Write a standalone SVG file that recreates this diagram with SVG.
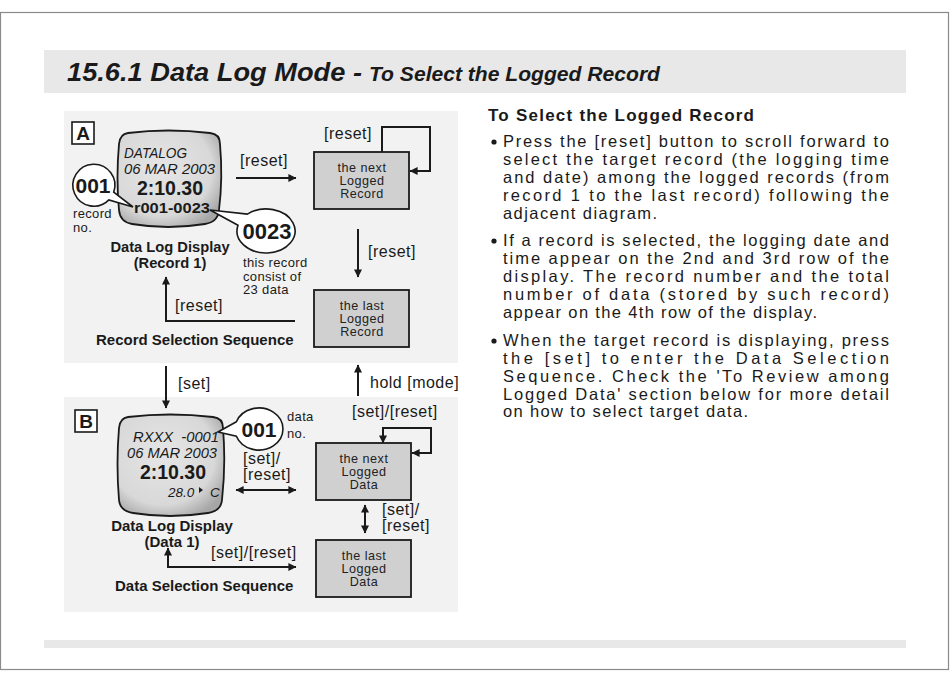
<svg xmlns="http://www.w3.org/2000/svg" width="950" height="682" viewBox="0 0 950 682">
<defs>
<style>
text{font-family:"Liberation Sans",Arial,sans-serif;fill:#1a1a1a}
.lbl{font-size:16px;letter-spacing:0.5px}
.sm{font-size:13px;letter-spacing:0.35px}
.bx{font-size:12.6px;letter-spacing:0.5px;text-anchor:middle;fill:#222}
.bold{font-weight:bold}
.it{font-style:italic}
.body{font-size:16.5px}
.con{fill:none;stroke:#1a1a1a;stroke-width:2}
.box{fill:#d0d0d0;stroke:#1a1a1a;stroke-width:1.8}
.call{fill:#fff;stroke:#1a1a1a;stroke-width:1.6}
.lcd{fill:url(#lcdg);stroke:#1a1a1a;stroke-width:1.8}
.panel{fill:#f2f2f2}
</style>
<radialGradient id="lcdg" cx="0.42" cy="0.4" r="0.68">
<stop offset="0" stop-color="#e6e6e6"/>
<stop offset="0.72" stop-color="#d8d8d8"/>
<stop offset="1" stop-color="#a6a6a6"/>
</radialGradient>
<marker id="ah" viewBox="0 0 10 10" refX="9.5" refY="5" markerWidth="9" markerHeight="8" markerUnits="userSpaceOnUse" orient="auto-start-reverse">
<path d="M0,0 L10,5 L0,10 z" fill="#1a1a1a"/>
</marker>
</defs>

<rect x="0" y="0" width="950" height="682" fill="#fff"/>
<rect x="0.5" y="12.5" width="948" height="657" fill="none" stroke="#8a8a8a" stroke-width="1.2"/>

<g id="header">
<rect x="44" y="50" width="862" height="43" fill="#e8e8e8"/>
<text x="67" y="81" class="bold it" font-size="26" textLength="295" lengthAdjust="spacingAndGlyphs">15.6.1 Data Log Mode -</text>
<text x="369" y="81" class="bold it" font-size="20" textLength="291" lengthAdjust="spacingAndGlyphs">To Select the Logged Record</text>
</g>
<rect id="footer" x="44" y="640" width="862" height="8" fill="#e8e8e8"/>

<g id="panel-a">
<rect x="64" y="111" width="394" height="252" class="panel"/>
<rect x="72" y="122" width="22" height="22" fill="#fff" stroke="#1a1a1a" stroke-width="1.6"/>
<text x="83" y="140" class="bold" font-size="19" text-anchor="middle">A</text>
</g>
<g id="panel-b">
<rect x="64" y="397" width="394" height="215" class="panel"/>
<rect x="75" y="410" width="22" height="22" fill="#fff" stroke="#1a1a1a" stroke-width="1.6"/>
<text x="86" y="428" class="bold" font-size="19" text-anchor="middle">B</text>
</g>

<g id="lcd-record">
<path class="lcd" d="M128,133 Q168,128 210,133 Q220,134 220,144 Q223,178 219,210 Q218,222 205,224 Q168,230 132,224 Q120,222 119,210 Q116,178 119,144 Q120,134 128,133 Z"/>
<text x="124" y="158" class="it" font-size="15.5" textLength="63" lengthAdjust="spacingAndGlyphs">DATALOG</text>
<text x="124" y="174" class="it" font-size="15.5" textLength="91" lengthAdjust="spacingAndGlyphs">06 MAR 2003</text>
<text x="170" y="195" class="bold" font-size="19.5" text-anchor="middle">2:10.30</text>
<text x="134" y="213" class="bold" font-size="14.5" textLength="76" lengthAdjust="spacingAndGlyphs">r001-0023</text>
</g>

<g id="callout-record-no">
<path class="call" d="M113.7,192.2 L133,207 L108.9,199.9 A21 21 0 1 1 113.7,192.2 Z"/>
<text x="93" y="193" class="bold" font-size="21" text-anchor="middle">001</text>
<text x="73" y="218" class="sm">record</text>
<text x="73" y="232" class="sm">no.</text>
</g>

<g id="callout-data-count">
<path class="call" d="M238,225.3 L210,210 L247.4,214.1 A29 22 0 1 1 238,225.3 Z"/>
<text x="267" y="238.5" class="bold" font-size="22" text-anchor="middle">0023</text>
<text x="243" y="267" class="sm">this record</text>
<text x="243" y="280.5" class="sm">consist of</text>
<text x="243" y="294" class="sm">23 data</text>
</g>

<g id="label-record-display">
<text x="170" y="252" class="bold" font-size="14.7" text-anchor="middle">Data Log Display</text>
<text x="170" y="268" class="bold" font-size="14.7" text-anchor="middle">(Record 1)</text>
<text x="96" y="345" class="bold" font-size="15">Record Selection Sequence</text>
</g>

<g id="box-next-record">
<rect x="314" y="152" width="95" height="57" class="box"/>
<text x="362" y="172" class="bx">the next</text>
<text x="362" y="185" class="bx">Logged</text>
<text x="362" y="198" class="bx">Record</text>
</g>
<g id="box-last-record">
<rect x="314" y="290" width="95" height="57" class="box"/>
<text x="362" y="310" class="bx">the last</text>
<text x="362" y="323" class="bx">Logged</text>
<text x="362" y="336" class="bx">Record</text>
</g>

<g id="lcd-data">
<path class="lcd" d="M128,417 Q170,412 213,417 Q223,418 223,428 Q226,464 222,500 Q221,511 208,513 Q170,519 133,513 Q120,511 119,500 Q116,464 119,428 Q120,418 128,417 Z"/>
<text x="133" y="442" class="it" font-size="15.5" xml:space="preserve" textLength="86" lengthAdjust="spacingAndGlyphs">RXXX  -0001</text>
<text x="127" y="458" class="it" font-size="15.5" textLength="90" lengthAdjust="spacingAndGlyphs">06 MAR 2003</text>
<text x="173" y="479" class="bold" font-size="19.5" text-anchor="middle">2:10.30</text>
<text x="168" y="497" class="it" font-size="13.5">28.0</text>
<path d="M199,487 L203,490 L199,493 Z" fill="#1a1a1a"/>
<text x="210" y="497" class="it" font-size="13.5">C</text>
</g>

<g id="callout-data-no">
<path class="call" d="M236.4,421.8 L218,432 L236.4,436.2 A24 21 0 1 0 236.4,421.8 Z"/>
<text x="259" y="437" class="bold" font-size="21" text-anchor="middle">001</text>
<text x="287" y="421" class="sm">data</text>
<text x="287" y="438" class="sm">no.</text>
</g>

<g id="label-data-display">
<text x="172" y="531" class="bold" font-size="15" text-anchor="middle">Data Log Display</text>
<text x="172" y="547" class="bold" font-size="15" text-anchor="middle">(Data 1)</text>
<text x="115" y="591" class="bold" font-size="15">Data Selection Sequence</text>
</g>

<g id="box-next-data">
<rect x="316" y="443" width="95" height="57" class="box"/>
<text x="364" y="463" class="bx">the next</text>
<text x="364" y="476" class="bx">Logged</text>
<text x="364" y="489" class="bx">Data</text>
</g>
<g id="box-last-data">
<rect x="316" y="540" width="95" height="57" class="box"/>
<text x="364" y="560" class="bx">the last</text>
<text x="364" y="573" class="bx">Logged</text>
<text x="364" y="586" class="bx">Data</text>
</g>

<g id="connectors">
<path class="con" d="M236,178 H296" marker-end="url(#ah)"/>
<path class="con" d="M382,152 V127 H430 V171 H410" marker-end="url(#ah)"/>
<path class="con" d="M358,229 V277" marker-end="url(#ah)"/>
<path class="con" d="M295,321 H166 V277" marker-end="url(#ah)"/>
<path class="con" d="M166,366 V408" marker-end="url(#ah)"/>
<path class="con" d="M358,396 V365" marker-end="url(#ah)"/>
<path class="con" d="M236,490 H296" marker-start="url(#ah)" marker-end="url(#ah)"/>
<path class="con" d="M383,443 V428 H431 V453 H412" marker-start="url(#ah)" marker-end="url(#ah)"/>
<path class="con" d="M365,505 V533" marker-start="url(#ah)" marker-end="url(#ah)"/>
<path class="con" d="M296,567 H168 V548" marker-start="url(#ah)" marker-end="url(#ah)"/>
</g>

<g id="connector-labels">
<text x="240" y="166" class="lbl">[reset]</text>
<text x="324" y="139" class="lbl">[reset]</text>
<text x="368" y="257" class="lbl">[reset]</text>
<text x="175" y="311" class="lbl">[reset]</text>
<text x="178" y="389" class="lbl">[set]</text>
<text x="370" y="388" class="lbl">hold [mode]</text>
<text x="352" y="417" class="lbl">[set]/[reset]</text>
<text x="243" y="464" class="lbl">[set]/</text>
<text x="243" y="480" class="lbl">[reset]</text>
<text x="382" y="515" class="lbl">[set]/</text>
<text x="382" y="531" class="lbl">[reset]</text>
<text x="211" y="558" class="lbl">[set]/[reset]</text>
</g>

<g id="description">
<text x="488" y="121" class="bold" font-size="17" textLength="266" lengthAdjust="spacing">To Select the Logged Record</text>
<circle cx="494" cy="142" r="2.6" fill="#1a1a1a"/>
<circle cx="494" cy="241" r="2.6" fill="#1a1a1a"/>
<circle cx="494" cy="341" r="2.6" fill="#1a1a1a"/>
<g class="body">
<text x="503" y="147" textLength="386" lengthAdjust="spacing">Press the [reset] button to scroll forward to</text>
<text x="503" y="165" textLength="386" lengthAdjust="spacing">select the target record (the logging time</text>
<text x="503" y="183" textLength="386" lengthAdjust="spacing">and date) among the logged records (from</text>
<text x="503" y="201" textLength="386" lengthAdjust="spacing">record 1 to the last record) following the</text>
<text x="503" y="219" textLength="154" lengthAdjust="spacing">adjacent diagram.</text>
<text x="503" y="246" textLength="386" lengthAdjust="spacing">If a record is selected, the logging date and</text>
<text x="503" y="264" textLength="386" lengthAdjust="spacing">time appear on the 2nd and 3rd row of the</text>
<text x="503" y="282" textLength="386" lengthAdjust="spacing">display. The record number and the total</text>
<text x="503" y="300" textLength="386" lengthAdjust="spacing">number of data (stored by such record)</text>
<text x="503" y="318" textLength="314" lengthAdjust="spacing">appear on the 4th row of the display.</text>
<text x="503" y="346" textLength="386" lengthAdjust="spacing">When the target record is displaying, press</text>
<text x="503" y="364" textLength="386" lengthAdjust="spacing">the [set] to enter the Data Selection</text>
<text x="503" y="382" textLength="386" lengthAdjust="spacing">Sequence. Check the 'To Review among</text>
<text x="503" y="400" textLength="386" lengthAdjust="spacing">Logged Data' section below for more detail</text>
<text x="503" y="417" textLength="245" lengthAdjust="spacing">on how to select target data.</text>
</g>
</g>
</svg>
